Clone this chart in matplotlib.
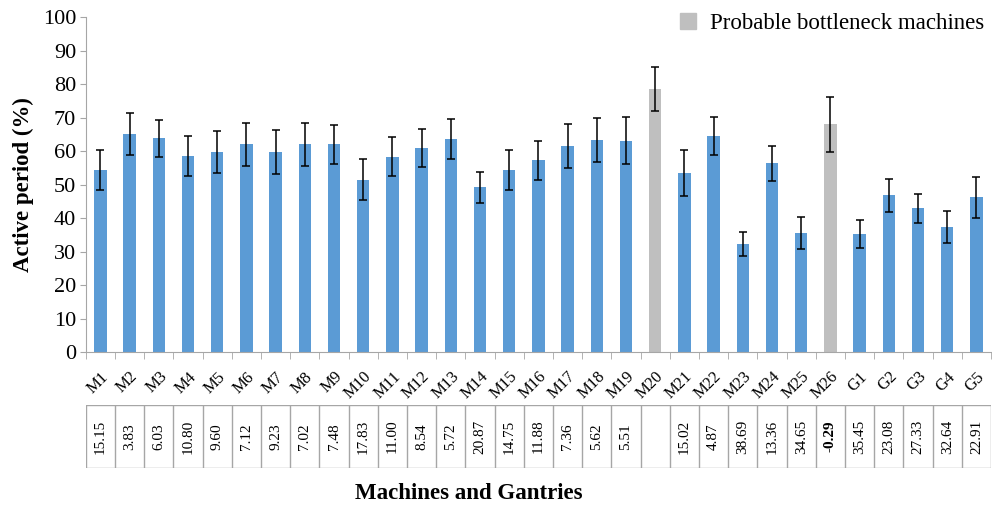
import matplotlib
matplotlib.use("Agg")
import matplotlib.pyplot as plt
from matplotlib.patches import Patch

plt.rcParams['font.family'] = ['Liberation Serif', 'DejaVu Serif']

# data
labels = ["M1", "M2", "M3", "M4", "M5", "M6", "M7", "M8", "M9", "M10",
          "M11", "M12", "M13", "M14", "M15", "M16", "M17", "M18", "M19", "M20",
          "M21", "M22", "M23", "M24", "M25", "M26", "G1", "G2", "G3", "G4", "G5"]
active = [54.3, 65.2, 63.8, 58.5, 59.8, 62.0, 59.8, 62.0, 62.0, 51.5,
          58.3, 60.9, 63.7, 49.2, 54.4, 57.3, 61.5, 63.4, 63.1, 78.6,
          53.5, 64.5, 32.3, 56.4, 35.5, 68.0, 35.2, 46.8, 42.9, 37.4, 46.2]
err = [6.0, 6.3, 5.4, 6.0, 6.2, 6.5, 6.6, 6.4, 5.8, 6.1,
       5.8, 5.7, 5.9, 4.7, 6.0, 5.8, 6.5, 6.5, 7.0, 6.7,
       7.0, 5.7, 3.5, 5.2, 4.8, 8.2, 4.1, 5.0, 4.3, 4.8, 6.2]
bottleneck = ["M20", "M26"]
table_vals = ["15.15", "3.83", "6.03", "10.80", "9.60", "7.12", "9.23", "7.02", "7.48", "17.83",
              "11.00", "8.54", "5.72", "20.87", "14.75", "11.88", "7.36", "5.62", "5.51", "",
              "15.02", "4.87", "38.69", "13.36", "34.65", "-0.29", "35.45", "23.08", "27.33", "32.64", "22.91"]
bold_vals = ["-0.29"]

blue = "#5B9BD5"
grey = "#BFBFBF"
axis_col = "#A6A6A6"

fig = plt.figure(figsize=(9.92, 5.09), dpi=100)
ax = fig.add_axes([0.0865, 0.3084, 0.9125, 0.6576])

x = list(range(len(labels)))
colors = [grey if l in bottleneck else blue for l in labels]
ax.bar(x, active, width=0.42, color=colors, yerr=err, capsize=3,
       error_kw=dict(ecolor="black", elinewidth=1.1, capthick=1.1), zorder=2)

ax.set_xlim(-0.5, len(labels) - 0.5)
ax.set_ylim(0, 100)
ax.set_yticks(range(0, 101, 10))
ax.tick_params(axis="y", labelsize=16, length=4, color=axis_col, pad=3)
ax.set_xticks(x)
ax.set_xticklabels(labels, rotation=45, ha="right", rotation_mode="anchor", fontsize=12)
ax.tick_params(axis="x", which="major", length=0, pad=12)
ax.set_xticks([i - 0.5 for i in range(len(labels) + 1)], minor=True)
ax.tick_params(axis="x", which="minor", length=5, color=axis_col)
for s in ["top", "right"]:
    ax.spines[s].set_visible(False)
for s in ["left", "bottom"]:
    ax.spines[s].set_color(axis_col)
ax.set_ylabel("Active period (%)", fontsize=16.5, fontweight="bold", labelpad=6)

ax.legend(handles=[Patch(color=grey, label="Probable bottleneck machines")],
          loc="upper right", bbox_to_anchor=(1.015, 1.075), frameon=False,
          fontsize=16.5, handlelength=0.7, handleheight=0.7, handletextpad=0.6)

# table of values under the chart
tab = fig.add_axes([0.0865, 0.0806, 0.9125, 0.1238])
tab.set_xlim(-0.5, len(labels) - 0.5)
tab.set_ylim(0, 1)
tab.axis("off")
for i in range(len(labels) + 1):
    tab.plot([i - 0.5, i - 0.5], [0, 1], color=axis_col, lw=1)
tab.plot([-0.5, len(labels) - 0.5], [0, 0], color=axis_col, lw=1)
tab.plot([-0.5, len(labels) - 0.5], [1, 1], color=axis_col, lw=1)
for i, v in enumerate(table_vals):
    tab.text(i, 0.5, v, rotation=90, ha="center", va="center", fontsize=11,
             fontweight="bold" if v in bold_vals else "normal")

fig.text(0.473, 0.03, "Machines and Gantries", ha="center", va="center",
         fontsize=16.5, fontweight="bold")

fig.savefig("out.png", dpi=100)
